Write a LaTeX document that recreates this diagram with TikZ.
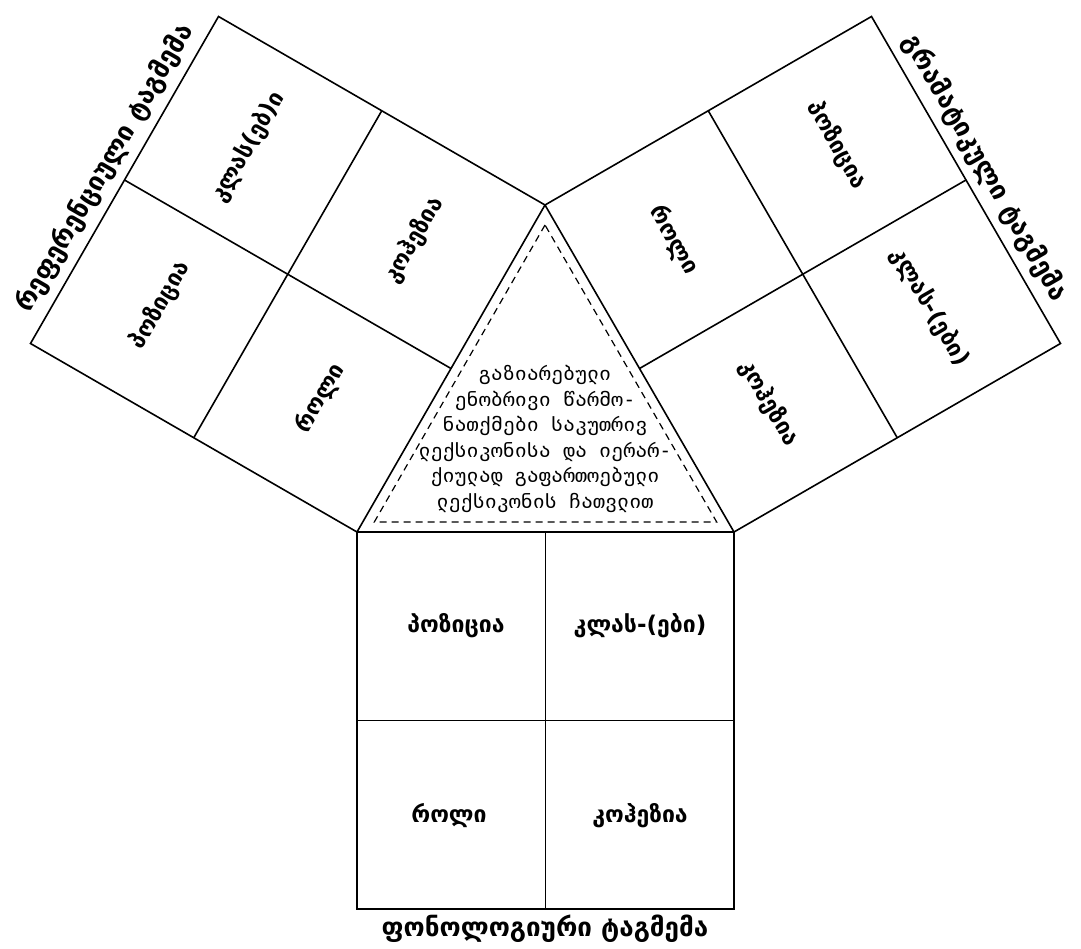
\documentclass[tikz,border=0pt]{standalone}
\usepackage{fontspec}
\setmainfont{DejaVu Sans}
\newfontfamily\geomono{DejaVu Sans Mono}
\usetikzlibrary{calc}
\begin{document}
\begin{tikzpicture}[x=1pt,y=-1pt,
  edge/.style={line width=1.6pt, line join=miter},
  lbl/.style={font=\bfseries\fontsize{23}{26}\selectfont, inner sep=0pt},
  capt/.style={font=\bfseries\fontsize{26}{30}\selectfont, inner sep=0pt},
  inner/.style={line width=1.2pt, dash pattern=on 7pt off 5pt},
  centertext/.style={font=\geomono\fontsize{20}{25.5}\selectfont, align=center, inner sep=0pt}]
\useasboundingbox (0,0) rectangle (1081,949);
% corners
\coordinate (A) at (545,205);
\coordinate (B) at (357,532);
\coordinate (C) at (734,532);
\coordinate (P) at (218.5,16.5);
\coordinate (Q) at (30.5,343.5);
\coordinate (S) at (871.5,16.5);
\coordinate (R) at (1060.5,343.5);
\coordinate (D) at (357,909);
\coordinate (E) at (734,909);
% squares
\draw[edge] (A)--(B)--(Q)--(P)--cycle;
\draw[edge] (A)--(C)--(R)--(S)--cycle;
\draw[edge] (B)--(C)--(E)--(D)--cycle;
% dividers
\draw[edge] ($(A)!0.5!(B)$)--($(P)!0.5!(Q)$);
\draw[edge] ($(B)!0.5!(Q)$)--($(A)!0.5!(P)$);
\draw[edge] ($(A)!0.5!(C)$)--($(S)!0.5!(R)$);
\draw[edge] ($(A)!0.5!(S)$)--($(C)!0.5!(R)$);
\draw[edge] ($(B)!0.5!(C)$)--($(D)!0.5!(E)$);
\draw[edge] ($(B)!0.5!(D)$)--($(C)!0.5!(E)$);
% inner dashed triangle
\coordinate (IA) at (545,225);
\coordinate (IB) at (374.3,522);
\coordinate (IC) at (716.7,522);
\draw[inner] (IA)--(IB)--(IC)--cycle;
\node[centertext] (ct) at (545,439) {გაზიარებული\\ენობრივი წარმო-\\ნათქმები საკუთრივ\\ლექსიკონისა და იერარ-\\ქიულად გაფართოებული\\ლექსიკონის ჩათვლით};
% bottom square labels
\node[lbl] (b1) at (456,626) {პოზიცია};
\node[lbl] (b2) at (640,626) {კლას-(ები)};
\node[lbl] (b3) at (449,816) {როლი};
\node[lbl] (b4) at (640,816) {კოჰეზია};
\node[capt] (bc) at (545,929) {ფონოლოგიური ტაგმემა};
% left square labels
\node[lbl,rotate=60] (l1) at (248,147) {კლას(ებ)ი};
\node[lbl,rotate=60] (l2) at (160,305) {პოზიცია};
\node[lbl,rotate=60] (l3) at (414,240) {კოჰეზია};
\node[lbl,rotate=60] (l4) at (320,398) {როლი};
\node[capt,rotate=60] (lc) at (105,168) {რეფერენციული ტაგმემა};
% right square labels
\node[lbl,rotate=-60] (r1) at (837,145) {პოზიცია};
\node[lbl,rotate=-60] (r2) at (930,307) {კლას-(ები)};
\node[lbl,rotate=-60] (r3) at (674,240) {როლი};
\node[lbl,rotate=-60] (r4) at (769,403) {კოჰეზია};
\node[capt,rotate=-60] (rc) at (985,168) {გრამატიკული ტაგმემა};
\end{tikzpicture}
\end{document}
